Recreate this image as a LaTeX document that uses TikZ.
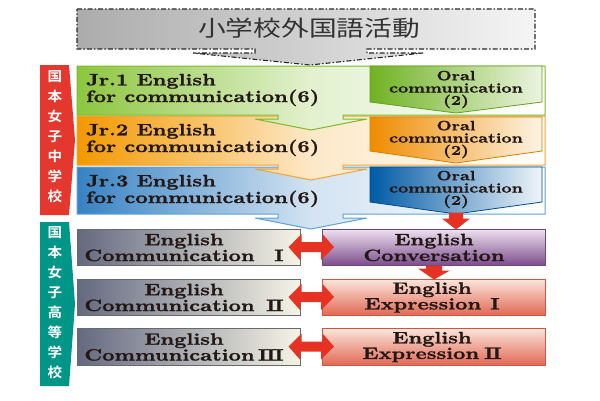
\documentclass[tikz,border=0pt]{standalone}
\usepackage{fontspec}
\usetikzlibrary{calc}
\newfontfamily\enfont{lmroman10-bold}[Extension=.otf, FakeStretch=1.3, FakeBold=1.2]
\newfontfamily\cjk{Noto Sans CJK JP}[FakeStretch=1.26]
\newfontfamily\cjkb{Noto Sans CJK JP Bold}[FakeStretch=1.08]
\definecolor{ink}{RGB}{35,24,21}
\definecolor{dk}{RGB}{40,40,40}
\definecolor{tg1}{RGB}{172,172,172}
\definecolor{tg2}{RGB}{245,245,245}
\definecolor{grn}{RGB}{141,198,63}
\definecolor{grnB}{RGB}{124,186,44}
\definecolor{grnO}{RGB}{112,178,35}
\definecolor{org}{RGB}{243,152,0}
\definecolor{orgB}{RGB}{242,162,50}
\definecolor{orgO}{RGB}{238,140,0}
\definecolor{blu}{RGB}{55,130,195}
\definecolor{bluB}{RGB}{95,162,214}
\definecolor{bluO}{RGB}{0,90,165}
\definecolor{yl1}{RGB}{255,250,210}
\definecolor{yl2}{RGB}{251,238,150}
\definecolor{g1}{RGB}{100,105,128}
\definecolor{g2}{RGB}{246,244,230}
\definecolor{gB}{RGB}{105,105,105}
\definecolor{p1}{RGB}{238,225,240}
\definecolor{p2}{RGB}{125,78,142}
\definecolor{pB}{RGB}{110,70,130}
\definecolor{s1}{RGB}{251,230,220}
\definecolor{s2}{RGB}{226,105,85}
\definecolor{sB}{RGB}{205,85,65}
\definecolor{redc}{RGB}{230,50,35}
\definecolor{redbar}{RGB}{228,55,45}
\definecolor{tealc}{RGB}{0,150,135}
\pgfdeclarelayer{back}
\pgfdeclarelayer{mid}
\pgfsetlayers{back,mid,main}
\newcommand{\numr}[1]{\makebox[29pt][r]{#1}}
\begin{document}
\begin{tikzpicture}[x=1pt,y=-1pt,
  en/.style={font=\enfont\fontsize{16.5}{14.5}\selectfont, text=ink, inner sep=0pt},
  jr/.style={en, anchor=west, align=left},
  oc/.style={font=\enfont\fontsize{13.5}{12.3}\selectfont, text=ink, inner sep=0pt, align=center},
  lbl/.style={font=\cjkb\fontsize{13.5}{20}\selectfont, text=white, align=center, inner sep=0pt},
  box/.style={line width=1pt, minimum width=223pt, minimum height=36pt, inner sep=0pt},
  gbox/.style={box, draw=gB, left color=g1, right color=g2},
  pbox/.style={box, draw=pB, top color=p1, bottom color=p2},
  sbox/.style={box, draw=sB, top color=s1, bottom color=s2},
  btxt/.style={en, align=center},
  band/.style={line width=1pt},
  oral/.style={line width=0.8pt}]
\useasboundingbox (0,0) rectangle (600,400);
\fill[white] (0,0) rectangle (600,400);

% top dashed callout
\path[draw=dk, line width=1.1pt, dash pattern=on 5pt off 2pt on 1.5pt off 2pt,
  left color=tg1, right color=tg2]
  (77,9) -- (535,9) -- (535,49) -- (367,49) -- (367,53) -- (423,53) -- (310,65)
  -- (193,53) -- (255,53) -- (255,49) -- (77,49) -- cycle;
\node[font=\cjk\fontsize{22}{22}\selectfont, text=black!80, inner sep=0pt] (top) at (309,28) {小学校外国語活動};

% side labels
\fill[redbar] (40,65) -- (69,65) -- (75,140) -- (69,215) -- (40,215) -- cycle;
\node[lbl] (lblJ) at (55,137) {国\\本\\女\\子\\中\\学\\校};
\fill[tealc] (40,222) -- (69,222) -- (75,304) -- (69,386) -- (40,386) -- cycle;
\node[lbl] (lblS) at (55,303) {国\\本\\女\\子\\高\\等\\学\\校};

% yellow background
\begin{pgfonlayer}{back}
\path[top color=yl1, bottom color=yl2] (72,218) rectangle (550,385);
\end{pgfonlayer}

% Jr.3 band
\path[band, draw=bluB, left color=blu, right color=white, middle color=blu!22!white]
  (77,167) -- (545,167) -- (545,214) -- (343,214) -- (343,218) -- (367,218) -- (311,229)
  -- (255,218) -- (278,218) -- (278,214) -- (77,214) -- cycle;
\path[oral, draw=bluO!85!black, left color=bluO, right color=bluO!6!white]
  (370,167) -- (542,167) -- (542,202) -- (456,214) -- (370,202) -- cycle;
% Jr.2 band
\path[band, draw=orgB, left color=org, right color=white, middle color=org!22!white]
  (77,116) -- (545,116) -- (545,165) -- (343,165) -- (343,169) -- (367,169) -- (311,180)
  -- (255,169) -- (278,169) -- (278,165) -- (77,165) -- cycle;
\path[oral, draw=orgO!90!black, left color=orgO, right color=orgO!10!white]
  (370,117) -- (542,117) -- (542,151) -- (456,163) -- (370,151) -- cycle;
% Jr.1 band
\path[band, draw=grnB, left color=grn, right color=white, middle color=grn!25!white]
  (77,66) -- (545,66) -- (545,115) -- (343,115) -- (343,119) -- (367,119) -- (311,130)
  -- (255,119) -- (278,119) -- (278,115) -- (77,115) -- cycle;
\path[oral, draw=grnO!90!black, left color=grnO, right color=grnO!14!white]
  (370,66) -- (542,66) -- (542,102) -- (456,113) -- (370,102) -- cycle;

\node[jr] (jr1) at (86,90) {Jr.1 English\\for communication(6)};
\node[jr] (jr2) at (86,140) {Jr.2 English\\for communication(6)};
\node[jr] (jr3) at (86,191) {Jr.3 English\\for communication(6)};
\node[oc] (oc1) at (456,89.5) {Oral\\communication\\(2)};
\node[oc] (oc2) at (456,139.5) {Oral\\communication\\(2)};
\node[oc] (oc3) at (456,189.5) {Oral\\communication\\(2)};

% senior boxes
\node[gbox] (ec1) at (188.5,247) {};
\node[gbox] (ec2) at (188.5,297) {};
\node[gbox, minimum height=37pt] (ec3) at (188.5,346.5) {};
\node[pbox] (conv) at (434,247) {};
\node[sbox] (ex1) at (434,297) {};
\node[sbox, minimum height=37pt] (ex2) at (434,346.5) {};
\node[btxt] (ec1t) at (184,247.5) {English\\Communication\numr{I}};
\node[btxt] (ec2t) at (184,297.5) {English\\Communication\numr{I\kern-1.2pt I}};
\node[btxt] (ec3t) at (184,347) {English\\Communication\numr{I\kern-1.2pt I\kern-1.2pt I}};
\node[btxt] (convt) at (434,247.5) {English\\Conversation};
\node[btxt] (ex1t) at (432,297.5) {English\\Expression\hspace{0.55em}I};
\node[btxt] (ex2t) at (432,347) {English\\Expression\hspace{0.3em}I\kern-1.2pt I};

% callouts between stacked boxes
\begin{pgfonlayer}{mid}
\foreach \a/\b in {ec1/ec2, ec2/ec3}{
  \path[draw=gB, line width=0.8pt, left color=g1!80!white, right color=g2]
    ($(\a.south)+(-23,-2)$) -- ++(0,7) -- ++(-15,0) -- ($(\b.north)+(0,-1)$)
    -- ($(\a.south)+(38,5)$) -- ++(-15,0) -- ++(0,-7) -- cycle;
}
\path[draw=sB, line width=0.8pt, top color=s2!60!white, bottom color=s2]
  ($(ex1.south)+(-24,-2)$) -- ++(0,7) -- ++(-16,0) -- ($(ex2.north)+(0,-1)$)
  -- ($(ex1.south)+(40,5)$) -- ++(-16,0) -- ++(0,-7) -- cycle;
\end{pgfonlayer}

% red down arrows
\fill[redc] ($(conv.north)+(15,-16)$) -- ++(14,0) -- ++(0,6) -- ++(7,0)
  -- ($(conv.north)+(22,1)$) -- ++(-14,-11) -- ++(7,0) -- cycle;
\fill[redc] ($(conv.south)+(-8,0)$) -- ++(16,0) -- ++(0,5) -- ++(8,0)
  -- ($(ex1.north)+(0,1)$) -- ++(-16,-11) -- ++(8,0) -- cycle;

% red double arrows
\foreach \l/\r in {ec1/conv, ec2/ex1, ec3/ex2}{
  \fill[redc] ($(\l.east)+(-12,0)$) -- ++(13,-13) -- ++(0,8) -- ++(21,0) -- ++(0,-8)
    -- ($(\r.west)+(12,0)$) -- ++(-13,13) -- ++(0,-8) -- ++(-21,0) -- ++(0,8) -- cycle;
}
\end{tikzpicture}
\end{document}
